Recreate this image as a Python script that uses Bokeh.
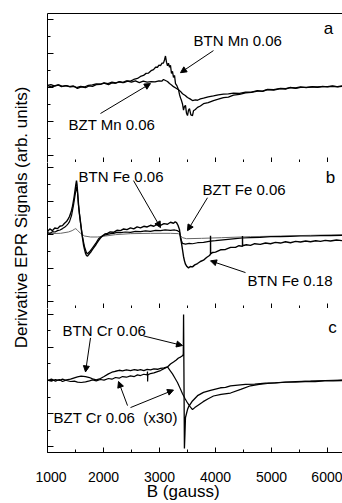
from bokeh.plotting import figure
from bokeh.models import (Range1d, FixedTicker, SingleIntervalTicker, LinearAxis,
                          Label, Arrow, NormalHead)
from bokeh.layouts import row, column
from bokeh.embed import file_html
from bokeh.resources import INLINE

FONT = "Liberation Sans"
NB = "\u00a0"

# ---------------- data (B in gauss, signal in arb. units) ----------------
a_btn_mn = [(1000,0.06),(1070,0.02),(1143,0.05),(1200,0.08),(1268,0.04),(1340,0.06),(1411,0.02),(1470,0.04),
            (1536,-0.02),(1600,0.02),(1679,0.0),(1740,0.05),(1804,0.04),(1870,0.09),(1946,0.10),(2010,0.13),
            (2089,0.09),(2150,0.14),(2214,0.13),(2280,0.17),(2339,0.15),(2410,0.20),(2482,0.19),(2540,0.24),
            (2607,0.27),(2660,0.33),(2714,0.36),(2760,0.42),(2804,0.43),(2850,0.50),(2893,0.53),(2930,0.60),
            (2964,0.60),(2990,0.66),(3018,0.65),(3045,0.72),(3071,0.72),(3090,0.82),(3107,0.93),(3125,0.75),
            (3143,0.64),(3160,0.72),(3179,0.60),(3196,0.66),(3214,0.42),(3232,0.48),(3250,0.30),(3268,0.36),
            (3286,0.12),(3310,0.06),(3339,-0.06),(3357,-0.20),(3375,-0.30),(3393,-0.38),(3411,-0.48),(3429,-0.66),
            (3446,-0.55),(3464,-0.52),(3482,-0.75),(3500,-0.82),(3518,-0.66),(3536,-0.62),(3560,-0.80),(3589,-0.82),
            (3607,-0.68),(3640,-0.64),(3679,-0.58),(3730,-0.54),(3786,-0.47),(3870,-0.44),(3964,-0.38),(4050,-0.34),
            (4143,-0.29),(4230,-0.28),(4321,-0.22),(4430,-0.20),(4536,-0.15),(4640,-0.14),(4750,-0.10),(4840,-0.10),
            (4929,-0.05),(5040,-0.06),(5161,-0.02),(5250,-0.03),(5339,0.00),(5430,-0.01),(5518,0.02),(5620,0.00),
            (5732,0.03),(5820,0.01),(5911,0.04),(6000,0.02),(6089,0.04),(6180,0.03),(6268,0.05)]

a_bzt_mn = [(1000,0.07),(1060,0.09),(1120,0.05),(1190,0.08),(1250,0.03),(1320,0.06),(1390,0.03),(1460,0.05),
            (1520,0.0),(1590,0.04),(1660,0.02),(1730,0.07),(1800,0.08),(1870,0.11),(1940,0.10),(2010,0.14),
            (2080,0.12),(2150,0.16),(2220,0.14),(2290,0.18),(2360,0.15),(2430,0.19),(2500,0.16),(2570,0.20),
            (2640,0.15),(2710,0.19),(2780,0.16),(2850,0.18),(2920,0.17),(2990,0.20),(3040,0.19),(3071,0.24),
            (3107,0.21),(3143,0.18),(3179,0.12),(3215,0.08),(3250,0.03),(3290,-0.01),(3339,-0.06),(3375,-0.11),
            (3411,-0.18),(3460,-0.23),(3500,-0.29),(3545,-0.33),(3589,-0.38),(3640,-0.36),(3679,-0.37),(3730,-0.33),
            (3786,-0.31),(3870,-0.27),(3964,-0.24),(4050,-0.21),(4143,-0.19),(4230,-0.18),(4321,-0.16),(4430,-0.17),
            (4536,-0.13),(4640,-0.13),(4750,-0.09),(4840,-0.11),(4929,-0.06),(5040,-0.07),(5161,-0.03),(5250,-0.04),
            (5339,0.01),(5430,-0.02),(5518,0.01),(5620,0.01),(5732,0.02),(5820,0.02),(5911,0.03),(6000,0.03),
            (6089,0.05),(6180,0.02),(6268,0.04)]

b_btn_fe018 = [(1000,0.09),(1040,0.17),(1089,0.12),(1130,0.20),(1179,0.18),(1220,0.25),(1268,0.27),(1300,0.33),
               (1339,0.39),(1370,0.47),(1393,0.54),(1410,0.62),(1429,0.72),(1447,0.85),(1464,1.01),(1478,1.15),
               (1491,1.31),(1505,1.48),(1518,1.61),(1527,1.50),(1536,1.30),(1545,1.10),(1554,0.90),(1570,0.62),
               (1589,0.38),(1607,0.12),(1625,-0.10),(1643,-0.30),(1661,-0.44),(1680,-0.56),(1696,-0.62),(1714,-0.64),
               (1732,-0.60),(1750,-0.56),(1780,-0.50),(1804,-0.44),(1830,-0.38),(1857,-0.32),(1885,-0.24),(1911,-0.18),
               (1945,-0.10),(1982,-0.04),(2025,0.02),(2071,0.04),(2120,0.08),(2179,0.07),(2240,0.13),(2304,0.12),
               (2360,0.17),(2420,0.15),(2482,0.20),(2540,0.17),(2600,0.23),(2661,0.20),(2720,0.25),(2780,0.23),
               (2839,0.28),(2900,0.25),(2960,0.31),(3018,0.28),(3080,0.33),(3143,0.31),(3196,0.37),(3250,0.34),
               (3280,0.38),(3304,0.36),(3330,0.28),(3357,0.15),(3375,-0.10),(3393,-0.25),(3411,-0.45),(3429,-0.65),
               (3446,-0.78),(3464,-0.88),(3490,-0.95),(3518,-0.99),(3550,-0.95),(3589,-0.96),(3630,-0.90),(3679,-0.86),
               (3730,-0.80),(3786,-0.76),(3840,-0.68),(3893,-0.62),(3911,-0.58),(3911,-0.03),(3913,-0.57),(3950,-0.53),
               (4000,-0.52),(4090,-0.45),(4179,-0.44),(4270,-0.38),(4357,-0.38),(4420,-0.33),(4482,-0.35),(4482,-0.04),
               (4484,-0.33),(4550,-0.30),(4625,-0.32),(4700,-0.27),(4800,-0.29),(4893,-0.25),(4982,-0.27),(5070,-0.23),
               (5161,-0.25),(5250,-0.21),(5339,-0.24),(5430,-0.20),(5518,-0.22),(5610,-0.19),(5696,-0.21),(5790,-0.18),
               (5875,-0.20),(5960,-0.17),(6054,-0.19),(6160,-0.16),(6268,-0.18)]

b_btn_fe006 = [(1000,0.06),(1045,0.04),(1089,0.09),(1135,0.08),(1179,0.12),(1225,0.14),(1268,0.18),(1305,0.22),
               (1339,0.27),(1370,0.33),(1393,0.39),(1429,0.57),(1464,0.87),(1491,1.16),(1518,1.43),(1536,1.25),
               (1554,0.87),(1589,0.36),(1625,-0.06),(1661,-0.36),(1696,-0.54),(1714,-0.57),(1750,-0.51),(1804,-0.39),
               (1857,-0.27),(1911,-0.12),(1982,-0.03),(2071,0.01),(2130,0.03),(2179,0.04),(2240,0.07),(2304,0.06),
               (2390,0.08),(2482,0.07),(2570,0.10),(2661,0.09),(2750,0.11),(2839,0.10),(2930,0.13),(3018,0.12),
               (3100,0.14),(3196,0.13),(3270,0.14),(3321,0.12),(3357,0.08),(3375,-0.06),(3393,-0.18),(3411,-0.26),
               (3464,-0.28),(3530,-0.26),(3589,-0.27),(3680,-0.24),(3786,-0.23),(3911,-0.19),(4000,-0.18),(4179,-0.15),
               (4357,-0.12),(4482,-0.10),(4625,-0.09),(4800,-0.08),(4982,-0.06),(5161,-0.06),(5339,-0.05),(5518,-0.04),
               (5696,-0.04),(5875,-0.03),(6054,-0.03),(6268,-0.02)]

b_bzt_fe006 = [(1000,0.03),(1232,0.04),(1375,0.08),(1440,0.12),(1480,0.16),(1505,0.18),(1536,0.13),(1589,0.04),
               (1661,-0.04),(1768,-0.07),(1893,-0.07),(2036,-0.04),(2214,0.00),(2482,0.03),(2839,0.04),(3196,0.04),
               (3339,0.03),(3411,-0.09),(3482,-0.12),(3750,-0.11),(4107,-0.09),(4625,-0.06),(5161,-0.04),(5696,-0.02),
               (6268,0.00)]

c_btn_cr = [(1000,0.00),(1070,0.04),(1143,-0.02),(1210,0.03),(1268,-0.03),(1340,0.02),(1411,0.04),(1480,0.08),
            (1536,0.11),(1600,0.13),(1679,0.12),(1750,0.09),(1804,0.05),(1870,0.02),(1946,0.06),(2010,0.12),
            (2089,0.20),(2150,0.25),(2214,0.28),(2280,0.31),(2339,0.29),(2410,0.32),(2482,0.30),(2550,0.33),
            (2607,0.31),(2661,0.33),(2720,0.30),(2780,0.34),(2839,0.32),(2900,0.35),(2964,0.34),(3018,0.37),
            (3080,0.38),(3143,0.41),(3196,0.50),(3250,0.56),(3300,0.62),(3339,0.68),(3375,0.71),(3411,0.75),
            (3425,0.79),(3430,2.00),(3445,-2.06),(3455,-1.60),(3464,-1.12),(3500,-0.88),(3518,-0.80),(3589,-0.62),
            (3679,-0.46),(3786,-0.36),(3911,-0.30),(4000,-0.26),(4089,-0.22),(4179,-0.21),(4268,-0.16),(4400,-0.14),
            (4536,-0.12),(4700,-0.11),(4893,-0.08),(5070,-0.07),(5250,-0.05),(5430,-0.05),(5600,-0.03),(5780,-0.03),
            (5950,-0.01),(6100,-0.01),(6268,0.00)]

c_bzt_cr = [(1000,0.01),(1070,-0.02),(1143,0.03),(1210,0.00),(1268,0.04),(1340,0.00),(1411,-0.03),(1480,-0.02),
            (1536,-0.05),(1600,-0.06),(1679,-0.04),(1750,-0.01),(1804,0.02),(1870,-0.01),(1946,0.03),(2010,0.01),
            (2089,0.06),(2150,0.04),(2214,0.09),(2280,0.07),(2339,0.12),(2410,0.10),(2482,0.14),(2550,0.12),
            (2607,0.17),(2661,0.15),(2720,0.19),(2780,0.17),(2786,0.27),(2788,-0.03),(2792,0.17),(2839,0.21),
            (2900,0.23),(2964,0.27),(3018,0.30),(3080,0.36),(3143,0.41),(3190,0.30),(3232,0.20),(3280,0.06),
            (3321,-0.06),(3370,-0.24),(3411,-0.40),(3460,-0.56),(3500,-0.68),(3550,-0.80),(3589,-0.88),(3630,-0.82),
            (3696,-0.74),(3780,-0.64),(3870,-0.55),(3964,-0.47),(4100,-0.42),(4268,-0.38),(4450,-0.27),(4625,-0.16),
            (4780,-0.12),(4929,-0.09),(5161,-0.06),(5430,-0.03),(5696,-0.02),(5960,0.00),(6268,0.01)]

# ---------------- layout ----------------
xr = Range1d(1000, 6268)


def style_axis(ax, tick_in, minor_in, labels=False):
    ax.axis_line_color = "black"
    ax.axis_line_width = 1
    ax.major_tick_in = tick_in
    ax.major_tick_out = 0
    ax.minor_tick_in = minor_in
    ax.minor_tick_out = 0
    ax.major_tick_line_color = "black"
    ax.minor_tick_line_color = "black"
    if labels:
        ax.major_label_text_font = FONT
        ax.major_label_text_font_size = "14px"
        ax.major_label_text_color = "black"
        ax.major_label_standoff = 19
    else:
        ax.major_label_text_color = None
        ax.major_label_text_font_size = "1px"
        ax.major_label_standoff = 0


def panel(height, ylo, yhi, top, bottom, labels):
    p = figure(width=307, height=height, x_range=xr, y_range=Range1d(ylo, yhi),
               toolbar_location=None, output_backend="svg",
               min_border_left=12, min_border_right=0, min_border_top=top, min_border_bottom=bottom)
    p.outline_line_color = None
    p.grid.visible = False
    p.background_fill_color = "white"
    p.border_fill_color = "white"
    p.xaxis.ticker = SingleIntervalTicker(interval=1000, num_minor_ticks=2)
    p.yaxis.ticker = FixedTicker(ticks=[-2, -1, 0, 1, 2], minor_ticks=[-1.5, -0.5, 0.5, 1.5])
    style_axis(p.xaxis[0], 5, 3, labels)
    style_axis(p.yaxis[0], 6, 3, False)
    return p


def xy(pairs):
    return [b for b, _ in pairs], [v for _, v in pairs]


def add_text(p, x, y, t, size="15px", align="left"):
    p.add_layout(Label(x=x, y=y, text=t, text_font=FONT, text_font_size=size, text_color="black",
                       text_align=align, text_baseline="middle"))


def add_arrow(p, xs, ys, xe, ye):
    p.add_layout(Arrow(end=NormalHead(size=6, fill_color="black", line_color="black", line_width=1),
                       x_start=xs, y_start=ys, x_end=xe, y_end=ye, line_color="black", line_width=1))


# panel a
pa = panel(162, -2.2, 2.18, 13, 0, False)
top_ax = LinearAxis(major_tick_in=0, major_tick_out=0, minor_tick_in=0, minor_tick_out=0,
                    major_label_text_font_size="1px", major_label_text_color=None,
                    major_label_standoff=0, axis_line_color="black")
pa.add_layout(top_ax, "above")
for s in (a_bzt_mn, a_btn_mn):
    x, y = xy(s)
    pa.line(x, y, line_color="black", line_width=1.3)
add_text(pa, 6018, 1.74, "a", size="17px", align="center")
add_text(pa, 3607, 1.38, "BTN Mn 0.06")
add_arrow(pa, 3964, 1.09, 3375, 0.44)
add_text(pa, 1375, -1.07, "BZT Mn 0.06")
add_arrow(pa, 1946, -0.76, 2839, 0.12)

# panel b
pb = panel(146, -2.2, 2.15, 0, 0, False)
x, y = xy(b_bzt_fe006)
pb.line(x, y, line_color="#666666", line_width=1)
x, y = xy(b_btn_fe006)
pb.line(x, y, line_color="black", line_width=1.2)
x, y = xy(b_btn_fe018)
pb.line(x, y, line_color="black", line_width=1.4)
add_text(pb, 6054, 1.70, "b", size="17px", align="center")
add_text(pb, 1554, 1.73, "BTN Fe 0.06")
add_arrow(pb, 2536, 1.61, 3018, 0.21)
add_text(pb, 3768, 1.36, "BZT Fe 0.06")
add_arrow(pb, 3857, 1.10, 3500, 0.12)
add_text(pb, 4571, -1.37, "BTN Fe 0.18")
add_arrow(pb, 4536, -1.13, 3911, -0.78)

# panel c
pc = panel(195, -2.18, 2.18, 0, 47, True)
x, y = xy(c_bzt_cr)
pc.line(x, y, line_color="black", line_width=1.2)
x, y = xy(c_btn_cr)
pc.line(x, y, line_color="black", line_width=1.3)
add_text(pc, 6089, 1.59, "c", size="17px", align="center")
add_text(pc, 1268, 1.50, "BTN Cr 0.06")
add_arrow(pc, 1768, 1.29, 1679, 0.26)
add_arrow(pc, 2714, 1.35, 3411, 1.06)
add_text(pc, 1107, -1.12, "BZT Cr 0.06 " + NB + "(x30)")
add_arrow(pc, 2429, -0.76, 2268, -0.03)
add_arrow(pc, 2482, -0.82, 3250, -0.29)
pc.xaxis.axis_label = "B (gauss)" + NB * 5
pc.xaxis.axis_label_text_font = FONT
pc.xaxis.axis_label_text_font_size = "17px"
pc.xaxis.axis_label_text_font_style = "normal"
pc.xaxis.axis_label_text_color = "black"
pc.xaxis.axis_label_standoff = -3

# y-axis title column
pl = figure(width=35, height=503, x_range=Range1d(0, 35), y_range=Range1d(0, 503),
            toolbar_location=None, output_backend="svg", x_axis_location=None, y_axis_location=None,
            min_border=0)
pl.outline_line_color = None
pl.grid.visible = False
pl.add_layout(Label(x=21, y=286, text="Derivative EPR Signals (arb. units)", angle=1.5707963,
                    text_font=FONT, text_font_size="17px", text_color="black",
                    text_align="center", text_baseline="middle"))

layout = row(pl, column(pa, pb, pc, spacing=0), spacing=0)
open("out.html", "w").write(file_html(layout, INLINE))
